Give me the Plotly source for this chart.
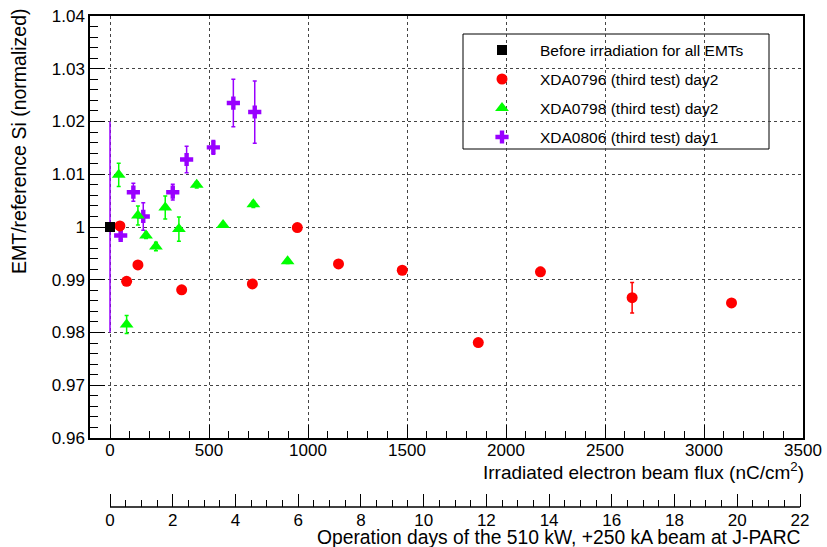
import plotly.graph_objects as go

# ---------------- data ----------------
before_x = [0]
before_y = [1.0]
before_err = [0.02]

red_x = [50, 84, 141, 362, 719, 946, 1154, 1476, 1860, 2174, 2637, 3139]
red_y = [1.0002, 0.9897, 0.9928, 0.9881, 0.9892, 0.9999, 0.9930, 0.9918, 0.9781, 0.9915, 0.9866, 0.9856]
red_err = [0.0003, 0.0005, 0.0005, 0.0005, 0.0007, 0.0005, 0.0007, 0.0005, 0.0007, 0.0008, 0.0029, 0.0006]

green_x = [44, 84, 141, 182, 232, 279, 348, 438, 571, 724, 897]
green_y = [1.0099, 0.9815, 1.0022, 0.9984, 0.9963, 1.0037, 0.9996, 1.0080, 1.0004, 1.0043, 0.9935]
green_err = [0.0022, 0.0017, 0.0018, 0.0006, 0.0008, 0.0022, 0.0023, 0.0006, 0.0004, 0.0006, 0.0004]

purple_x = [54, 118, 168, 317, 387, 522, 623, 731]
purple_y = [0.9984, 1.0066, 1.0020, 1.0066, 1.0128, 1.0151, 1.0235, 1.0218]
purple_err = [0.0007, 0.0017, 0.0026, 0.0015, 0.0025, 0.0013, 0.0045, 0.0059]

legend_labels = ["Before irradiation for all EMTs", "XDA0796 (third test) day2",
                 "XDA0798 (third test) day2", "XDA0806 (third test) day1"]

x_title = "Irradiated electron beam flux (nC/cm<sup>2</sup>)"
y_title = "EMT/reference Si (normalized)"
days_title = "Operation days of the 510 kW, +250 kA beam at J-PARC"

# ---------------- layout geometry (page pixels) ----------------
W, H = 827, 547
L, R, T, B = 90, 803, 16, 537      # plotting area incl. days axis
FRAME_BOTTOM = 438
DAYS_Y = 507


def px(xp):
    return (xp - L) / (R - L)


def py(yp):
    return (B - yp) / (B - T)


RED = "#ff0000"
GREEN = "#00ff00"
PURPLE = "#9900ff"
FONT = "Liberation Sans, Arial, Helvetica, sans-serif"

fig = go.Figure()

fig.add_trace(go.Scatter(
    x=purple_x, y=purple_y, mode="markers",
    marker=dict(symbol="cross", size=11, color=PURPLE, line=dict(width=0)),
    error_y=dict(type="data", array=purple_err, color=PURPLE, thickness=1.5, width=2),
    showlegend=False))
fig.add_trace(go.Scatter(
    x=green_x, y=green_y, mode="markers",
    marker=dict(symbol="triangle-up", size=12, color=GREEN, line=dict(width=0)),
    error_y=dict(type="data", array=green_err, color=GREEN, thickness=1.5, width=2),
    showlegend=False))
fig.add_trace(go.Scatter(
    x=red_x, y=red_y, mode="markers",
    marker=dict(symbol="circle", size=11, color=RED, line=dict(width=0)),
    error_y=dict(type="data", array=red_err, color=RED, thickness=1.5, width=2),
    showlegend=False))
fig.add_trace(go.Scatter(
    x=before_x, y=before_y, mode="markers",
    marker=dict(symbol="square", size=10, color="black", line=dict(width=0)),
    error_y=dict(type="data", array=before_err, color=PURPLE, thickness=1.5, width=0),
    showlegend=False))

# legend markers on a pixel-coordinate overlay
leg_sym = ["square", "circle", "triangle-up", "cross"]
leg_col = ["black", RED, GREEN, PURPLE]
leg_size = [10, 11, 12, 11]
leg_y = [50, 79, 108, 137]
for s, c, sz, yy in zip(leg_sym, leg_col, leg_size, leg_y):
    fig.add_trace(go.Scatter(
        x=[502], y=[yy], xaxis="x3", yaxis="y3", mode="markers",
        marker=dict(symbol=s, size=sz, color=c, line=dict(width=0)),
        showlegend=False, hoverinfo="skip"))

grid = dict(showgrid=True, gridcolor="#444444", griddash="dot", gridwidth=1)

fig.update_layout(
    width=W, height=H,
    margin=dict(l=L, r=W - R, t=T, b=H - B, pad=0, autoexpand=False),
    paper_bgcolor="white", plot_bgcolor="white",
    font=dict(family=FONT, size=17, color="black"),
    showlegend=False,
    xaxis=dict(
        domain=[0, 1], range=[-101, 3500], anchor="y", automargin=False,
        tickmode="linear", tick0=0, dtick=500,
        ticks="inside", ticklen=13, tickwidth=1, tickcolor="black",
        minor=dict(ticks="inside", ticklen=7, dtick=100, tick0=0, tickcolor="black", showgrid=False),
        showline=True, linecolor="black", linewidth=1.5, mirror=True,
        zeroline=False, tickfont=dict(size=17), ticklabelstandoff=-4, **grid),
    yaxis=dict(
        domain=[py(FRAME_BOTTOM), 1], range=[0.96, 1.04], anchor="x", automargin=False,
        tickmode="linear", tick0=0.96, dtick=0.01, tickformat="~g",
        ticks="inside", ticklen=15, tickwidth=1, tickcolor="black",
        minor=dict(ticks="inside", ticklen=8, dtick=0.002, tick0=0.96, tickcolor="black", showgrid=False),
        showline=True, linecolor="black", linewidth=1.5, mirror=True,
        zeroline=False, tickfont=dict(size=17), **grid),
    xaxis2=dict(
        overlaying="x", anchor="free", position=py(DAYS_Y), side="bottom", automargin=False,
        range=[(L - 110) / 31.3636, (R - 110) / 31.3636],
        tickmode="array", tickvals=list(range(0, 23, 2)),
        ticks="inside", ticklen=13, tickwidth=1, tickcolor="black",
        minor=dict(ticks="inside", ticklen=7, tickmode="array",
                   tickvals=[v / 2 for v in range(1, 44) if v % 4 != 0],
                   tickcolor="black", showgrid=False),
        showline=False, showgrid=False, zeroline=False, tickfont=dict(size=17),
        ticklabelstandoff=1),
    xaxis3=dict(overlaying="x", range=[L, R], visible=False, automargin=False),
    yaxis3=dict(overlaying="y", range=[FRAME_BOTTOM, T], visible=False, automargin=False),
)

# days axis line (only from day 0 to day 22)
fig.add_shape(type="line", xref="x2", yref="paper", x0=0, x1=22,
              y0=py(DAYS_Y), y1=py(DAYS_Y), line=dict(color="black", width=1.5))

# legend box (above grid, below markers)
fig.add_shape(type="rect", xref="paper", yref="paper",
              x0=px(463), x1=px(769), y0=py(149), y1=py(34),
              line=dict(color="black", width=1), fillcolor="white", layer="between")
for lab, yy in zip(legend_labels, leg_y):
    fig.add_annotation(x=px(538), y=py(yy), xref="paper", yref="paper", text=lab,
                       showarrow=False, xanchor="left", yanchor="middle",
                       font=dict(size=15.5, family=FONT, color="black"))

# axis titles
fig.add_annotation(x=px(806), y=py(471), xref="paper", yref="paper", text=x_title,
                   showarrow=False, xanchor="right", yanchor="middle",
                   font=dict(size=19, family=FONT))
fig.add_annotation(x=px(803), y=py(537), xref="paper", yref="paper", text=days_title,
                   showarrow=False, xanchor="right", yanchor="middle",
                   font=dict(size=19.3, family=FONT))
fig.add_annotation(x=px(19), y=py(6), xref="paper", yref="paper", text=y_title,
                   showarrow=False, xanchor="center", yanchor="top", textangle=-90,
                   font=dict(size=19.5, family=FONT))

fig.write_html("out.html")
